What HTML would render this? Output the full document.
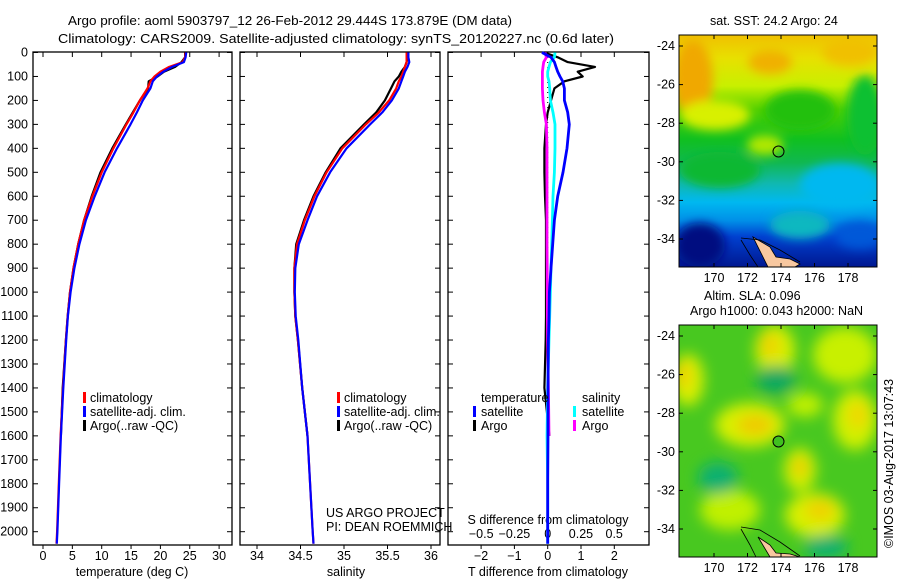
<!DOCTYPE html>
<html><head><meta charset="utf-8"><style>
body{margin:0;background:#fff;}
svg{display:block;font-family:"Liberation Sans",sans-serif;}
text{font-size:12.5px;fill:#000;}
</style></head><body>
<svg id="fig" width="900" height="580" viewBox="0 0 900 580">
<defs>
<clipPath id="cp1"><rect x="679" y="35" width="198" height="232"/></clipPath>
<clipPath id="cp2"><rect x="679" y="325" width="198" height="232"/></clipPath>
<linearGradient id="sstg" x1="0" y1="0" x2="0" y2="1">
<stop offset="0" stop-color="#f0c000"/><stop offset="0.1" stop-color="#e8e000"/><stop offset="0.22" stop-color="#c8f000"/>
<stop offset="0.32" stop-color="#50d000"/><stop offset="0.45" stop-color="#10c020"/><stop offset="0.55" stop-color="#10b850"/>
<stop offset="0.64" stop-color="#10b8b0"/><stop offset="0.72" stop-color="#00b8f0"/><stop offset="0.8" stop-color="#0090e8"/>
<stop offset="0.87" stop-color="#0040d0"/><stop offset="1" stop-color="#001890"/>
</linearGradient>
<filter id="bl"><feGaussianBlur stdDeviation="5"/></filter>
<filter id="bl2"><feGaussianBlur stdDeviation="7"/></filter>
</defs>
<text x="68" y="25" textLength="444" lengthAdjust="spacingAndGlyphs">Argo profile: aoml 5903797_12 26-Feb-2012 29.444S 173.879E (DM data)</text>
<text x="58" y="43" textLength="556" lengthAdjust="spacingAndGlyphs">Climatology: CARS2009. Satellite-adjusted climatology: synTS_20120227.nc (0.6d later)</text>
<g id="plots"></g>
<g id="maps">
<text x="710" y="25">sat. SST: 24.2  Argo: 24</text>
<g clip-path="url(#cp1)">
<rect x="679" y="35" width="198" height="232" fill="url(#sstg)"/>
<g filter="url(#bl)">
<ellipse cx="693" cy="80" rx="20" ry="40" fill="#f0a800"/>
<ellipse cx="770" cy="62" rx="22" ry="12" fill="#f0b000"/>
<ellipse cx="850" cy="52" rx="28" ry="14" fill="#f0c000"/>
<ellipse cx="715" cy="115" rx="35" ry="15" fill="#d8f000"/>
<ellipse cx="865" cy="115" rx="18" ry="40" fill="#10c030"/>
<ellipse cx="800" cy="110" rx="35" ry="20" fill="#20c010"/>
<ellipse cx="765" cy="145" rx="18" ry="10" fill="#b0e800"/>
<ellipse cx="720" cy="170" rx="40" ry="18" fill="#10b830"/>
<ellipse cx="840" cy="185" rx="40" ry="22" fill="#00b8f0"/>
<ellipse cx="700" cy="245" rx="25" ry="22" fill="#001080"/>
<ellipse cx="800" cy="225" rx="30" ry="14" fill="#10b8c0"/>
<ellipse cx="860" cy="235" rx="25" ry="14" fill="#0058d8"/>
</g>
<polygon points="753,237 770,247 776,257 790,259 800,264 795,267 768,267 762,255" fill="#f8c8a0" stroke="#000" stroke-width="0.8"/>
<polyline points="741,238 760,240 780,250 800,262" fill="none" stroke="#000" stroke-width="0.8"/>
<polyline points="741,240 750,255 758,267" fill="none" stroke="#000" stroke-width="0.8"/>
</g>
<rect x="679" y="35" width="198" height="232" fill="none" stroke="#000"/>
<circle cx="778.5" cy="151.5" r="5.5" fill="none" stroke="#000"/>
<text x="704" y="300">Altim. SLA: 0.096</text>
<text x="690" y="315">Argo h1000: 0.043 h2000: NaN</text>
<g clip-path="url(#cp2)">
<rect x="679" y="325" width="198" height="232" fill="#48c820"/>
<g filter="url(#bl2)">
<ellipse cx="775" cy="350" rx="20" ry="25" fill="#d8f000"/>
<ellipse cx="688" cy="380" rx="16" ry="26" fill="#d8f000"/>
<ellipse cx="750" cy="425" rx="35" ry="22" fill="#d8f000"/>
<ellipse cx="845" cy="355" rx="32" ry="28" fill="#c8f000"/>
<ellipse cx="855" cy="420" rx="22" ry="30" fill="#d0f000"/>
<ellipse cx="800" cy="470" rx="16" ry="22" fill="#d0f000"/>
<ellipse cx="815" cy="515" rx="30" ry="22" fill="#d8f000"/>
<ellipse cx="730" cy="510" rx="30" ry="20" fill="#c0f000"/>
<ellipse cx="805" cy="405" rx="18" ry="12" fill="#c0f000"/>
<ellipse cx="776" cy="380" rx="20" ry="14" fill="#10a860"/>
<ellipse cx="718" cy="478" rx="20" ry="16" fill="#10b070"/>
<ellipse cx="826" cy="547" rx="22" ry="12" fill="#10b070"/>
<ellipse cx="770" cy="345" rx="9" ry="12" fill="#f0d000"/>
<ellipse cx="683" cy="375" rx="8" ry="14" fill="#f0d000"/>
<ellipse cx="755" cy="425" rx="18" ry="10" fill="#f0c800"/>
<ellipse cx="858" cy="415" rx="10" ry="14" fill="#f0d800"/>
<ellipse cx="800" cy="467" rx="7" ry="10" fill="#f0c800"/>
<ellipse cx="820" cy="510" rx="15" ry="10" fill="#f0d000"/>
</g>
<polygon points="758,537 770,545 776,553 790,554 800,557 770,557" fill="#f8c8a0" stroke="#000" stroke-width="0.8"/>
<polyline points="741,527 760,530 780,542 800,556" fill="none" stroke="#000" stroke-width="0.8"/>
<polyline points="741,529 750,545 756,557" fill="none" stroke="#000" stroke-width="0.8"/>
</g>
<rect x="679" y="325" width="198" height="232" fill="none" stroke="#000"/>
<circle cx="778.5" cy="441.5" r="5.5" fill="#40c020" stroke="#000"/>
<text transform="translate(893,548) rotate(-90)">©IMOS 03-Aug-2017 13:07:43</text>
</g>
</svg>
<script>
// ---- data ----
const depths = [0,20,40,60,80,100,120,150,200,250,300,400,500,600,700,800,900,1000,1100,1200,1400,1600,1800,2000,2050];
const tempClim = [24.3,24.2,23.8,21.5,20.0,19.0,18.3,17.8,16.5,15.4,14.2,12.0,10.0,8.4,7.0,6.0,5.2,4.6,4.2,3.9,3.4,3.0,2.7,2.4,2.3];
const tempSat  = [24.4,24.3,24.0,22.0,20.5,19.4,18.7,18.3,17.0,16.0,14.9,12.6,10.5,8.8,7.3,6.2,5.35,4.7,4.25,3.95,3.45,3.05,2.75,2.45,2.35];
const argoDepths = [0,20,40,60,80,100,120,150,200,250,300,400,500,600,700,800,900,1000,1100,1200,1400,1600];
const tempArgo = [24.2,24.2,23.6,22.5,20.6,19.5,18.0,17.9,16.5,15.3,14.1,11.8,9.8,8.3,7.0,6.0,5.2,4.6,4.2,3.9,3.35,3.05];
const salClim = [35.72,35.72,35.72,35.70,35.68,35.66,35.63,35.60,35.52,35.40,35.25,34.98,34.80,34.66,34.55,34.46,34.43,34.43,34.44,34.47,34.52,34.58,34.61,34.64,34.65];
const salSat  = [35.74,35.74,35.75,35.73,35.70,35.68,35.66,35.63,35.55,35.44,35.30,35.03,34.84,34.69,34.58,34.48,34.44,34.435,34.445,34.475,34.52,34.58,34.61,34.64,34.65];
const salArgo = [35.72,35.73,35.72,35.70,35.66,35.63,35.58,35.54,35.47,35.37,35.23,34.96,34.79,34.65,34.54,34.45,34.43,34.43,34.44,34.47,34.52,34.58];
const dTSat  = [-0.17,0.1,0.2,0.25,0.3,0.37,0.45,0.5,0.5,0.6,0.65,0.58,0.46,0.3,0.2,0.15,0.1,0.05,0.04,0.02,0.01,0.01,0.0,0.0,0.0];
const dTArgo = [-0.1,0.3,0.6,1.42,0.9,1.05,0.5,0.2,0.1,0.0,-0.05,-0.1,-0.1,-0.08,-0.05,-0.05,-0.05,-0.05,-0.05,-0.06,-0.1,0.05];
const dSSat  = [0.055,0.05,0.02,0.01,0.0,0.0,0.01,0.015,0.02,0.04,0.055,0.055,0.05,0.04,0.035,0.03,0.025,0.02,0.015,0.01,0.0,-0.005,0.0,0.0,0.0];
const dSArgo = [-0.02,-0.01,-0.03,-0.035,-0.04,-0.04,-0.04,-0.04,-0.035,-0.025,-0.01,-0.005,-0.005,-0.005,-0.005,-0.005,-0.004,-0.003,-0.002,-0.001,0.005,0.01];
const depthTicks = [0,100,200,300,400,500,600,700,800,900,1000,1100,1200,1300,1400,1500,1600,1700,1800,1900,2000];
const tTicks = [0,5,10,15,20,25,30];
const sTicks = [34,34.5,35,35.5,36];
const sTickLabels = ['34','34.5','35','35.5','36'];
const dtTicks = [-2,-1,0,1,2];
const dsTicks = [-0.5,-0.25,0,0.25,0.5];
const dsTickLabels = ['\u22120.5','\u22120.25','0','0.25','0.5'];

const NS='http://www.w3.org/2000/svg';
const root=document.getElementById('plots');
function el(tag,attrs,parent){const e=document.createElementNS(NS,tag);for(const k in attrs)e.setAttribute(k,attrs[k]);(parent||root).appendChild(e);return e;}
const Y0=52.5, YS=0.2396, BOT=545, TOP=52;
const yD=d=>Y0+d*YS;
const xT=v=>43+v*5.87;
const xS=v=>257+(v-34)*87;
const xDT=v=>547.7+v*33.3;
const xDS=v=>547.7+v*133;

function frame(x0,x1,name){
  const r=el('rect',{x:x0,y:TOP,width:x1-x0,height:BOT-TOP,fill:'none',stroke:'#000','stroke-width':1.3});
  
  
  for(const d of depthTicks){
    const y=yD(d);
    el('line',{x1:x0,x2:x0+5,y1:y,y2:y,stroke:'#000'});
    el('line',{x1:x1-5,x2:x1,y1:y,y2:y,stroke:'#000'});
  }
}
function xticks(ticks,labels,fx,y,name,top){
  ticks.forEach((t,i)=>{
    const x=fx(t);
    el('line',{x1:x,x2:x,y1:BOT,y2:BOT+4,stroke:'#000'});
    if(top) el('line',{x1:x,x2:x,y1:TOP,y2:TOP+5,stroke:'#000'});
    const tx=el('text',{x:x,y:y,'text-anchor':'middle'});
    tx.textContent=labels[i];
    
    
  });
}
function line(vals,ds,fx,color,w,name){
  const pts=vals.map((v,i)=>fx(v).toFixed(1)+','+yD(ds[i]).toFixed(1)).join(' ');
  const p=el('polyline',{points:pts,fill:'none',stroke:color,'stroke-width':w,'stroke-linejoin':'round'});
  
  
}
function txt(x,y,s,name,anchor){const t=el('text',{x:x,y:y,'text-anchor':anchor||'start'});t.textContent=s;
  
  
  return t;}
function mark(x,y,c){el('rect',{x:x,y:y-11,width:3,height:11,fill:c});}

// panel 1
frame(33,232,'temperature-panel');
depthTicks.forEach(d=>{txt(28,yD(d)+4,String(d),'depth-tick-label','end');});
xticks(tTicks,tTicks.map(String),xT,560,'temperature-tick-label',true);
txt(132,576,'temperature (deg C)','temperature-axis-title','middle');
line(tempArgo,argoDepths,xT,'#000',2.2,'temp-argo-line');
line(tempClim,depths,xT,'#f00',2.2,'temp-clim-line');
line(tempSat,depths,xT,'#00f',2.2,'temp-sat-line');
mark(83,403,'#f00');txt(90,402,'climatology','legend-climatology');
mark(83,417,'#00f');txt(90,416,'satellite-adj. clim.','legend-satellite');
mark(83,431,'#000');txt(90,430,'Argo(..raw -QC)','legend-argo');

// panel 2
frame(240,440,'salinity-panel');
xticks(sTicks,sTickLabels,xS,560,'salinity-tick-label',true);
txt(346,576,'salinity','salinity-axis-title','middle');
line(salArgo,argoDepths,xS,'#000',2.2,'sal-argo-line');
line(salClim,depths,xS,'#f00',2.2,'sal-clim-line');
line(salSat,depths,xS,'#00f',2.2,'sal-sat-line');
mark(337,403,'#f00');txt(344,402,'climatology','legend-climatology-sal');
mark(337,417,'#00f');txt(344,416,'satellite-adj. clim.','legend-satellite-sal');
mark(337,431,'#000');txt(344,430,'Argo(..raw -QC)','legend-argo-sal');
txt(326,517,'US ARGO PROJECT','credit-project');
txt(326,531,'PI: DEAN ROEMMICH','credit-pi');

// panel 3
frame(448,649,'difference-panel');
xticks(dtTicks,['\u22122','\u22121','0','1','2'],xDT,560,'t-diff-tick-label',true);
txt(548,576,'T difference from climatology','t-diff-axis-title','middle');
txt(548,524,'S difference from climatology','s-diff-axis-title','middle');
dsTicks.forEach((t,i)=>{txt(xDS(t),538,dsTickLabels[i],'s-diff-tick-label','middle');});
el('line',{x1:547.7,x2:547.7,y1:TOP,y2:BOT,stroke:'#000','stroke-dasharray':'1,4'});
line(dTArgo,argoDepths,xDT,'#000',2.2,'dt-argo-line');
line(dSArgo,argoDepths,xDS,'#f0f',2.8,'ds-argo-line');
line(dSSat,depths,xDS,'#0ff',2.8,'ds-sat-line');
line(dTSat,depths,xDT,'#00f',2.8,'dt-sat-line');
txt(481,402,'temperature','legend-temperature');
txt(582,402,'salinity','legend-salinity');
mark(473,417,'#00f');txt(481,416,'satellite','legend-t-satellite');
mark(473,431,'#000');txt(481,430,'Argo','legend-t-argo');
mark(573,417,'#0ff');txt(582,416,'satellite','legend-s-satellite');
mark(573,431,'#f0f');txt(582,430,'Argo','legend-s-argo');

// map axes
const lats=[-24,-26,-28,-30,-32,-34], lons=[170,172,174,176,178];
const mapY=[46,336], latS=19.3;
const xLon=v=>714+(v-170)*16.75;
const m=document.getElementById('maps');
mapY.forEach((y0,mi)=>{
  const top=mi?325:35, bot=mi?557:267;
  lats.forEach(l=>{const y=y0+(-24-l)*latS;
    el('line',{x1:679,x2:683,y1:y,y2:y,stroke:'#000'},m);
    el('line',{x1:873,x2:877,y1:y,y2:y,stroke:'#000'},m);
    const t=el('text',{x:675,y:y+4,'text-anchor':'end'},m);t.textContent=String(l);
    
    
  });
  lons.forEach(l=>{const x=xLon(l);
    el('line',{x1:x,x2:x,y1:top,y2:top+4,stroke:'#000'},m);
    el('line',{x1:x,x2:x,y1:bot-4,y2:bot,stroke:'#000'},m);
    const t=el('text',{x:x,y:bot+15,'text-anchor':'middle'},m);t.textContent=String(l);
    
    
  });
});
</script>
</body></html>
